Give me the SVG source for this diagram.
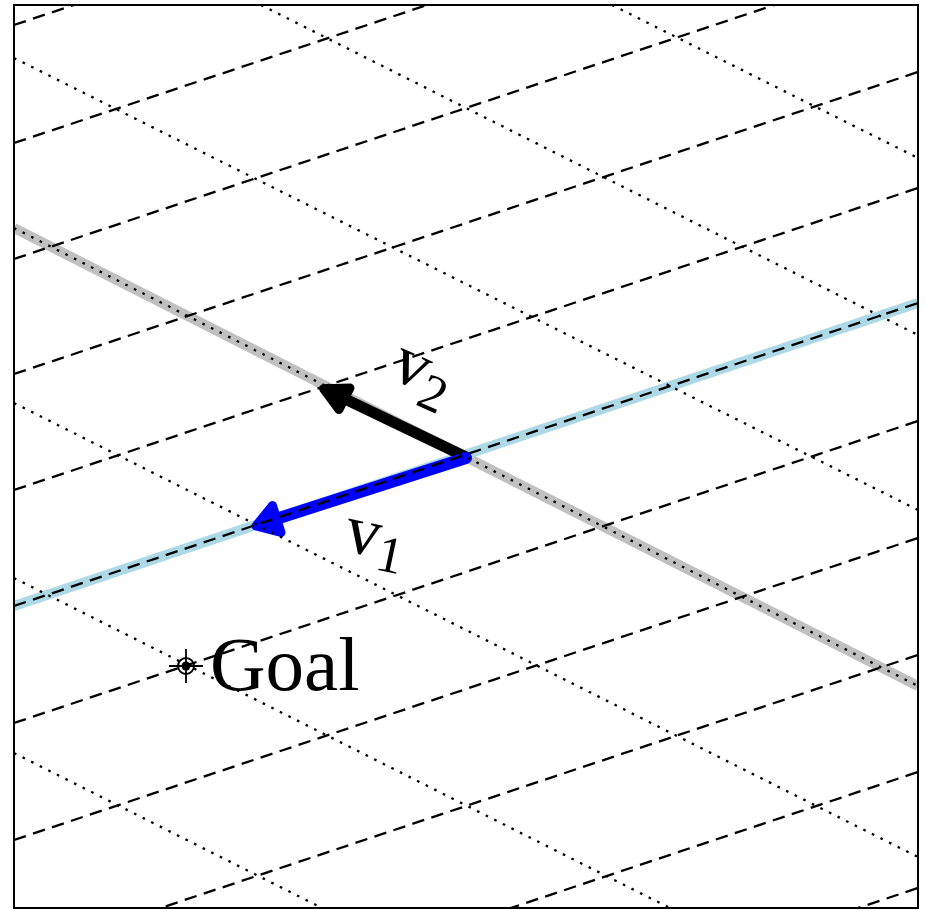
<svg xmlns="http://www.w3.org/2000/svg" width="926" height="910" viewBox="0 0 926 910">
<style>
.dash{fill:none;stroke:#000;stroke-width:2.3;stroke-dasharray:12.5 7.5}
.dot{fill:none;stroke:#000;stroke-width:2.3;stroke-dasharray:2.6 7}
.lbl{font-family:"Liberation Serif","Times New Roman",serif;fill:#000}
</style>
<defs>
<clipPath id="box"><rect x="14" y="5" width="904" height="903"/></clipPath>
</defs>
<rect x="0" y="0" width="926" height="910" fill="#fff"/>
<g id="bands" clip-path="url(#box)">
<line x1="14" y1="228" x2="918" y2="686" stroke="#c0c0c0" stroke-width="10"/>
<line x1="14" y1="606" x2="918" y2="303" stroke="#add8e6" stroke-width="10"/>
</g>
<g id="v2-arrow">
<line x1="466" y1="457" x2="343" y2="398" stroke="#000" stroke-width="11" stroke-linecap="round"/>
<polygon points="323.6,388.7 350,388 339,409.5" fill="#000" stroke="#000" stroke-width="9" stroke-linejoin="round"/>
</g>
<g id="v1-arrow">
<line x1="466" y1="458" x2="276" y2="519" stroke="#0000ff" stroke-width="12" stroke-linecap="round"/>
<polygon points="256,526 281,532.5 272.5,505.5" fill="#0000ff" stroke="#0000ff" stroke-width="9" stroke-linejoin="round"/>
</g>
<g id="grid" clip-path="url(#box)">
<line class="dash" x1="14" y1="25" x2="918" y2="-277"/>
<line class="dash" x1="14" y1="143" x2="918" y2="-159"/>
<line class="dash" x1="14" y1="259" x2="918" y2="-43"/>
<line class="dash" x1="14" y1="374" x2="918" y2="72"/>
<line class="dash" x1="14" y1="490" x2="918" y2="188"/>
<line class="dash" x1="14" y1="606" x2="918" y2="303"/>
<line class="dash" x1="14" y1="723" x2="918" y2="421"/>
<line class="dash" x1="14" y1="840" x2="918" y2="538"/>
<line class="dash" x1="14" y1="957" x2="918" y2="655"/>
<line class="dash" x1="14" y1="1074" x2="918" y2="772"/>
<line class="dash" x1="14" y1="1190" x2="918" y2="888"/>
<line class="dot" x1="612" y1="5" x2="918" y2="158"/>
<line class="dot" x1="261" y1="5" x2="918" y2="335"/>
<line class="dot" x1="14" y1="58" x2="918" y2="510"/>
<line class="dot" x1="14" y1="228" x2="918" y2="686"/>
<line class="dot" x1="14" y1="403" x2="918" y2="857"/>
<line class="dot" x1="14" y1="578" x2="670" y2="908"/>
<line class="dot" x1="14" y1="753" x2="322" y2="908"/>
</g>
<rect id="frame" x="14" y="5" width="904" height="903" fill="none" stroke="#000" stroke-width="2"/>
<g id="label-v2">
<text class="lbl" transform="translate(388,377) rotate(24)" font-size="70">v<tspan font-size="52" dy="14">2</tspan></text>
</g>
<g id="label-v1">
<text class="lbl" transform="translate(342,550) rotate(12)" font-size="70">v<tspan font-size="52" dy="12">1</tspan></text>
</g>
<g id="goal">
<circle cx="186" cy="666" r="8" fill="none" stroke="#000" stroke-width="2"/>
<circle cx="186" cy="666" r="4.5" fill="#000"/>
<line x1="169" y1="666" x2="203" y2="666" stroke="#000" stroke-width="1.8"/>
<line x1="186" y1="649" x2="186" y2="683" stroke="#000" stroke-width="1.8"/>
<text class="lbl" x="210" y="690" font-size="77">Goal</text>
</g>
</svg>
